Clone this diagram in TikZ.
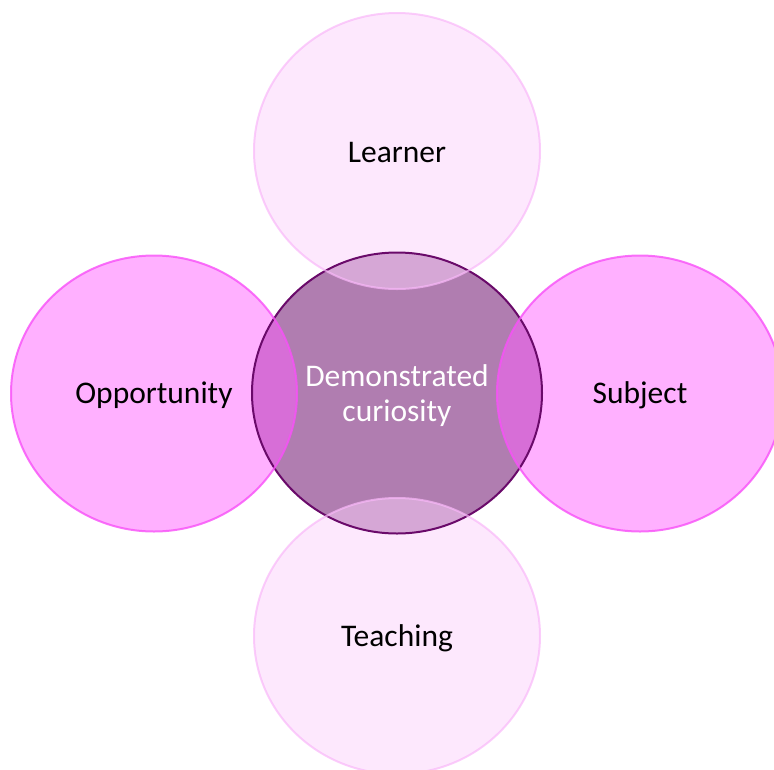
\documentclass[tikz,border=0pt]{standalone}
\usepackage{fontspec}
\setmainfont{Carlito}
\definecolor{ctrfill}{HTML}{B07DB0}
\definecolor{ctrline}{HTML}{6A0A6A}
\definecolor{palefill}{HTML}{FCD2FC}
\definecolor{paleline}{HTML}{F9B8F9}
\definecolor{brightfill}{HTML}{FF61FF}
\definecolor{brightline}{HTML}{F850F8}
\tikzset{
  lbl/.style={font=\fontsize{31.5}{35}\selectfont, align=center, text=black},
  ctrf/.style={fill=ctrfill},
  ctrd/.style={draw=ctrline, line width=2pt},
  palef/.style={fill=palefill, fill opacity=0.5},
  paled/.style={draw=paleline, line width=2pt, draw opacity=0.7},
  brightf/.style={fill=brightfill, fill opacity=0.5},
  brightd/.style={draw=brightline, line width=2pt, draw opacity=0.8},
}
\begin{document}
\begin{tikzpicture}[x=1pt,y=-1pt]
\useasboundingbox (0,0) rectangle (774,769);
\path[ctrf] (397,393) ellipse [x radius=145, y radius=140.5];
\path[palef] (397,151) ellipse [x radius=143, y radius=138];
\path[palef] (397,636) ellipse [x radius=143, y radius=138];
\path[brightf] (154,393.5) ellipse [x radius=143, y radius=138];
\path[brightf] (640,393.5) ellipse [x radius=143, y radius=138];
\path[ctrd] (397,393) ellipse [x radius=145, y radius=140.5];
\path[paled] (397,151) ellipse [x radius=143, y radius=138];
\path[paled] (397,636) ellipse [x radius=143, y radius=138];
\path[brightd] (154,393.5) ellipse [x radius=143, y radius=138];
\path[brightd] (640,393.5) ellipse [x radius=143, y radius=138];
\node[lbl, text=white] (center) at (397,396) {Demonstrated\\curiosity};
\node[lbl] (learner) at (397,153) {Learner};
\node[lbl] (teaching) at (397,638) {Teaching};
\node[lbl] (opportunity) at (154,395) {Opportunity};
\node[lbl] (subject) at (640,395) {Subject};
\end{tikzpicture}
\end{document}
